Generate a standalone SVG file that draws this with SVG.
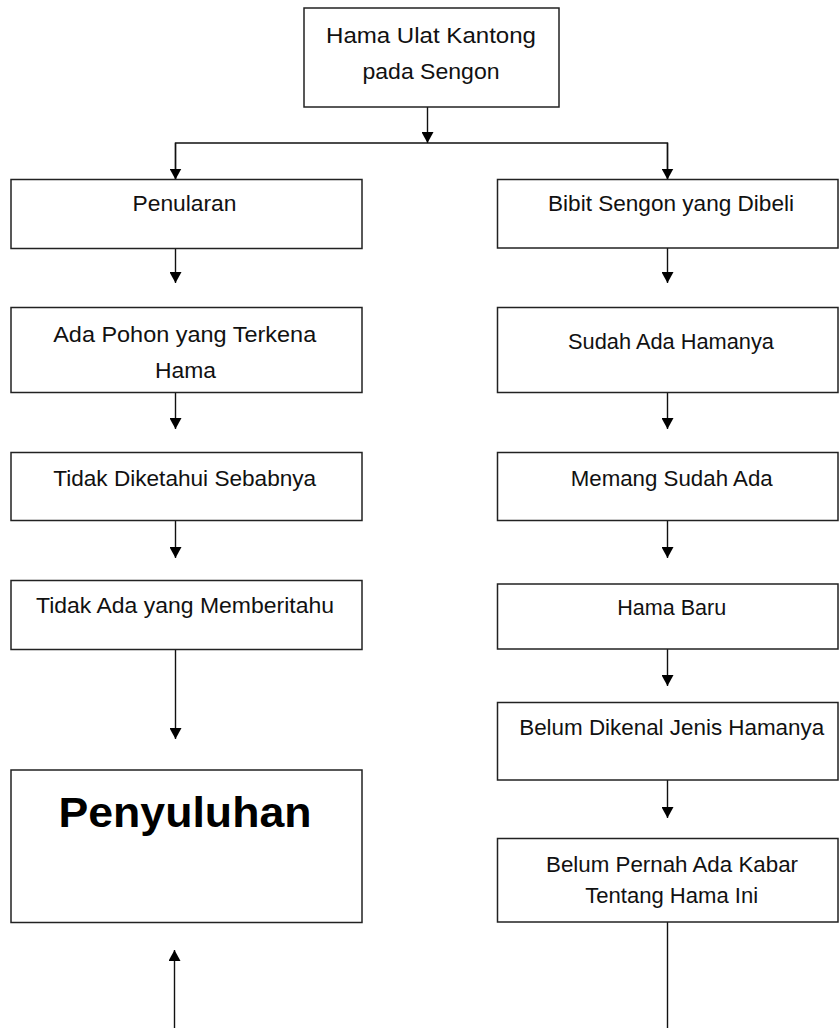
<svg xmlns="http://www.w3.org/2000/svg" width="839" height="1028" viewBox="0 0 839 1028">
  <defs>
    <style>
      .box { fill: #ffffff; stroke: #222222; stroke-width: 1.5; }
      .lbl { font-family: "Liberation Sans", Arial, sans-serif; font-size: 22px; fill: #111111; text-anchor: middle; }
      .big { font-family: "Liberation Sans", Arial, sans-serif; font-size: 42px; font-weight: bold; fill: #000000; text-anchor: middle; }
      .con { fill: none; stroke: #111111; stroke-width: 1.4; }
    </style>
    <marker id="arr" markerUnits="userSpaceOnUse" markerWidth="12" markerHeight="12" refX="11" refY="6" orient="auto">
      <path d="M0,0 L11,6 L0,12 Z" fill="#000000"/>
    </marker>
  </defs>
  <rect width="839" height="1028" fill="#ffffff"/>

  <g id="connectors">
    <line class="con" x1="427.5" y1="107" x2="427.5" y2="143" marker-end="url(#arr)"/>
    <polyline class="con" points="175.5,180 175.5,143 667.5,143 667.5,180"/>
    <line class="con" x1="175.5" y1="143" x2="175.5" y2="179.5" marker-end="url(#arr)"/>
    <line class="con" x1="667.5" y1="143" x2="667.5" y2="179.5" marker-end="url(#arr)"/>
    <line class="con" x1="175.5" y1="248.5" x2="175.5" y2="283" marker-end="url(#arr)"/>
    <line class="con" x1="175.5" y1="392.5" x2="175.5" y2="429" marker-end="url(#arr)"/>
    <line class="con" x1="175.5" y1="520.5" x2="175.5" y2="558" marker-end="url(#arr)"/>
    <line class="con" x1="175.5" y1="649.5" x2="175.5" y2="739" marker-end="url(#arr)"/>
    <line class="con" x1="174.5" y1="1028" x2="174.5" y2="950" marker-end="url(#arr)"/>
    <line class="con" x1="667.5" y1="248" x2="667.5" y2="283" marker-end="url(#arr)"/>
    <line class="con" x1="667.5" y1="392.5" x2="667.5" y2="429" marker-end="url(#arr)"/>
    <line class="con" x1="667.5" y1="520.5" x2="667.5" y2="558" marker-end="url(#arr)"/>
    <line class="con" x1="667.5" y1="649" x2="667.5" y2="686" marker-end="url(#arr)"/>
    <line class="con" x1="667.5" y1="780" x2="667.5" y2="818" marker-end="url(#arr)"/>
    <line class="con" x1="667.5" y1="922" x2="667.5" y2="1028"/>
  </g>

  <g id="n-top">
    <rect class="box" x="304" y="8" width="255" height="99"/>
    <text class="lbl" x="431" y="42.5" textLength="210" lengthAdjust="spacingAndGlyphs">Hama Ulat Kantong</text>
    <text class="lbl" x="431" y="79" textLength="137" lengthAdjust="spacingAndGlyphs">pada Sengon</text>
  </g>

  <g id="n-penularan">
    <rect class="box" x="11" y="179.5" width="351" height="69"/>
    <text class="lbl" x="184.5" y="210.5" textLength="104" lengthAdjust="spacingAndGlyphs">Penularan</text>
  </g>
  <g id="n-ada-pohon">
    <rect class="box" x="11" y="307.5" width="351" height="85"/>
    <text class="lbl" x="184.7" y="341.5" textLength="263" lengthAdjust="spacingAndGlyphs">Ada Pohon yang Terkena</text>
    <text class="lbl" x="185.5" y="378.3" textLength="61" lengthAdjust="spacingAndGlyphs">Hama</text>
  </g>
  <g id="n-tidak-diketahui">
    <rect class="box" x="11" y="452.5" width="351" height="68"/>
    <text class="lbl" x="184.7" y="486" textLength="263" lengthAdjust="spacingAndGlyphs">Tidak Diketahui Sebabnya</text>
  </g>
  <g id="n-tidak-ada">
    <rect class="box" x="11" y="580.5" width="351" height="69"/>
    <text class="lbl" x="185" y="613.3" textLength="298" lengthAdjust="spacingAndGlyphs">Tidak Ada yang Memberitahu</text>
  </g>
  <g id="n-penyuluhan">
    <rect class="box" x="11" y="770" width="351" height="152.5"/>
    <text class="big" x="185" y="826.7" textLength="253" lengthAdjust="spacingAndGlyphs">Penyuluhan</text>
  </g>

  <g id="n-bibit">
    <rect class="box" x="497.5" y="179.5" width="340.5" height="68.5"/>
    <text class="lbl" x="671" y="210.7" textLength="246" lengthAdjust="spacingAndGlyphs">Bibit Sengon yang Dibeli</text>
  </g>
  <g id="n-sudah-ada">
    <rect class="box" x="497.5" y="307.5" width="340.5" height="85"/>
    <text class="lbl" x="671" y="349.3" textLength="206" lengthAdjust="spacingAndGlyphs">Sudah Ada Hamanya</text>
  </g>
  <g id="n-memang">
    <rect class="box" x="497.5" y="452.5" width="340.5" height="68"/>
    <text class="lbl" x="671.7" y="486" textLength="202" lengthAdjust="spacingAndGlyphs">Memang Sudah Ada</text>
  </g>
  <g id="n-hama-baru">
    <rect class="box" x="497.5" y="584" width="340.5" height="65"/>
    <text class="lbl" x="671.7" y="615" textLength="109" lengthAdjust="spacingAndGlyphs">Hama Baru</text>
  </g>
  <g id="n-belum-dikenal">
    <rect class="box" x="497.5" y="702.5" width="340.5" height="77.5"/>
    <text class="lbl" x="671.7" y="735" textLength="305" lengthAdjust="spacingAndGlyphs">Belum Dikenal Jenis Hamanya</text>
  </g>
  <g id="n-belum-pernah">
    <rect class="box" x="497.5" y="838.5" width="340.5" height="83.5"/>
    <text class="lbl" x="672" y="871.7" textLength="252" lengthAdjust="spacingAndGlyphs">Belum Pernah Ada Kabar</text>
    <text class="lbl" x="671.7" y="902.7" textLength="173" lengthAdjust="spacingAndGlyphs">Tentang Hama Ini</text>
  </g>
</svg>
